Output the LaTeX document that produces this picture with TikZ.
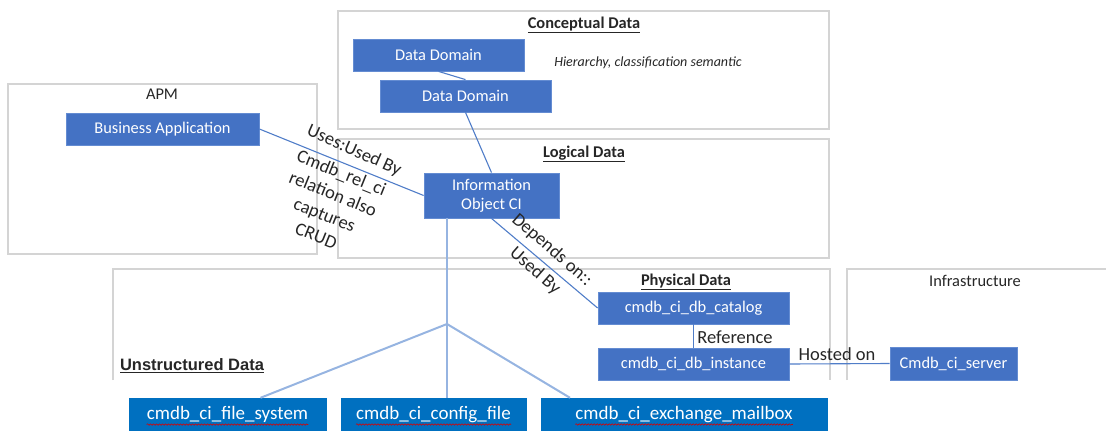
\documentclass[tikz,border=0pt]{standalone}
\usepackage{fontspec}
\setmainfont{Carlito}
\newfontfamily\arialfont{Liberation Sans}
\usetikzlibrary{decorations.pathmorphing}
\definecolor{boxblue}{RGB}{68,114,196}
\definecolor{boxedge}{RGB}{100,140,210}
\definecolor{darkbox}{RGB}{0,112,192}
\definecolor{framegray}{RGB}{212,212,212}
\definecolor{linkblue}{RGB}{80,125,200}
\definecolor{lightlink}{RGB}{150,180,225}
\begin{document}
\begin{tikzpicture}[x=1pt,y=-1pt,
  ciBox/.style={draw=boxedge, line width=0.8pt, fill=boxblue, text=white,
    font=\fontsize{16.4}{18.5}\selectfont, inner sep=0pt, align=center},
  unBox/.style={draw=darkbox, fill=darkbox, inner sep=0pt},
  unText/.style={text=white, font=\fontsize{19}{22}\selectfont, inner sep=0pt},
  frameLine/.style={draw=framegray, line width=1.8pt},
  link/.style={draw=linkblue, line width=1.1pt},
  lightLink/.style={draw=lightlink, line width=2pt},
  edgeLabel/.style={font=\fontsize{18.5}{22.5}\selectfont, text=black!85, inner sep=0pt},
  heading/.style={font=\fontsize{16.4}{19.5}\selectfont\bfseries, text=black!85, inner sep=0pt},
  plainHead/.style={font=\fontsize{16.4}{19.5}\selectfont, text=black!85, inner sep=0pt},
  squiggle/.style={draw=red!85!black, line width=0.6pt, decorate,
    decoration={snake, amplitude=0.7pt, segment length=3pt}}
]
\useasboundingbox (0,0) rectangle (1106,431);

% frames
\draw[frameLine] (338,11) rectangle (829,129);
\draw[frameLine] (8,84) rectangle (317,254);
\draw[frameLine] (338,139) rectangle (829,258);
\draw[frameLine] (113,380) -- (113,269) -- (830,269) -- (830,380);
\draw[frameLine] (847,380) -- (847,269) -- (1106,269);

% headings
\node[heading] (hC) at (584,25) {\underline{Conceptual Data}};
\node[heading] (hL) at (584,154) {\underline{Logical Data}};
\node[heading] (hP) at (686,282) {\underline{Physical Data}};
\node[plainHead] (hA) at (162,94) {APM};
\node[plainHead] (hI) at (975,281) {Infrastructure};
\node[inner sep=0pt, font=\arialfont\fontsize{16.5}{19.5}\selectfont\bfseries, text=black!85] (hU) at (192,366) {\underline{Unstructured Data}};
\node[inner sep=0pt, font=\fontsize{14}{16}\selectfont\itshape, text=black!85] (note) at (648,63) {Hierarchy, classification semantic};

% CI boxes
\node[ciBox, minimum width=171pt, minimum height=32pt] (dd1) at (438.5,55) {Data Domain};
\node[ciBox, minimum width=171pt, minimum height=32pt] (dd2) at (465.5,96) {Data Domain};
\node[ciBox, minimum width=193pt, minimum height=32pt] (ba) at (162.5,129) {Business Application};
\node[ciBox, minimum width=135pt, minimum height=45pt] (ci) at (491.5,195.5) {Information\\Object CI};
\node[ciBox, minimum width=191pt, minimum height=32pt] (cat) at (693.5,308) {cmdb\_ci\_db\_catalog};
\node[ciBox, minimum width=191pt, minimum height=32pt] (inst) at (693.5,364) {cmdb\_ci\_db\_instance};
\node[ciBox, minimum width=127pt, minimum height=33pt] (srv) at (953.5,363.5) {Cmdb\_ci\_server};

% unstructured boxes
\node[unBox, minimum width=197pt, minimum height=33pt] (fs) at (227.5,414.5) {};
\node[unBox, minimum width=185pt, minimum height=33pt] (cf) at (433.5,414.5) {};
\node[unBox, minimum width=286pt, minimum height=33pt] (mb) at (684,414.5) {};
\node[unText] (fsT) at (fs.center) {cmdb\_ci\_file\_system};
\node[unText] (cfT) at (cf.center) {cmdb\_ci\_config\_file};
\node[unText] (mbT) at (mb.center) {cmdb\_ci\_exchange\_mailbox};
\draw[squiggle] ([yshift=-5pt]fsT.base west) -- ([yshift=-5pt]fsT.base east);
\draw[squiggle] ([yshift=-5pt]cfT.base west) -- ([yshift=-5pt]cfT.base east);
\draw[squiggle] ([yshift=-5pt]mbT.base west) -- ([yshift=-5pt]mbT.base east);

% connectors
\draw[link] (dd1.south) -- (dd2.north);
\draw[link] (dd2.south) -- (ci.north);
\draw[link] (ba.east) -- (ci.west);
\draw[link] (ci.south) -- (cat.west);
\draw[link] (cat.south) -- (inst.north);
\draw[link] (inst.east) -- (srv.west);
\coordinate (J) at (447,324);
\draw[lightLink] (ci.south -| J) -- (J);
\draw[lightLink] (J) -- ([xshift=33pt]fs.north);
\draw[lightLink] (J) -- (J |- cf.north);
\draw[lightLink] (J) -- ([xshift=-114pt]mb.north);

% labels
\node[edgeLabel, rotate=-24] (lUses) at (354,151) {Uses:Used By};
\node[edgeLabel, rotate=-22, align=center] (lRel) at (329,204) {Cmdb\_rel\_ci\\relation also\\captures\\CRUD};
\node[edgeLabel, rotate=-41] (lDep) at (552,250) {Depends on::};
\node[edgeLabel, rotate=-41] (lUsed) at (535,271) {Used By};
\node[edgeLabel] (lRef) at (735,337) {Reference};
\node[edgeLabel] (lHost) at (837,354) {Hosted on};
\end{tikzpicture}
\end{document}
